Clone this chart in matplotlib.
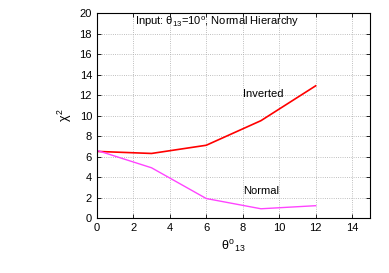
import matplotlib
matplotlib.use("Agg")
import matplotlib.pyplot as plt

plt.rcParams['font.family'] = ['Liberation Sans', 'DejaVu Sans']
plt.rcParams['mathtext.fontset'] = 'custom'
plt.rcParams['mathtext.rm'] = 'Liberation Sans'
plt.rcParams['mathtext.it'] = 'Liberation Sans'

theta = [0, 3, 6, 9, 12]
inverted = [6.5, 6.3, 7.1, 9.5, 12.9]
normal = [6.6, 4.9, 1.9, 0.9, 1.2]
xticks = [0, 2, 4, 6, 8, 10, 12, 14]
yticks = [0, 2, 4, 6, 8, 10, 12, 14, 16, 18, 20]

fig = plt.figure(figsize=(3.89, 2.73), dpi=100)
ax = fig.add_axes([0.249, 0.2015, 0.703, 0.7505])

ax.plot(theta, inverted, color='#ff0000', lw=1.2)
ax.plot(theta, normal, color='#ff44ff', lw=1.0)

ax.set_xlim(0, 15)
ax.set_ylim(0, 20)
ax.set_xticks(xticks)
ax.set_yticks(yticks)
ax.tick_params(direction='in', top=True, right=True, labelsize=8, length=3, width=0.6)
ax.grid(True, color='#aaaaaa', linestyle=':', linewidth=0.6)
for s in ax.spines.values():
    s.set_linewidth(0.8)

ax.set_xlabel(r'$\theta^{\rm o}{}_{13}$', fontsize=9)
ax.set_ylabel(r'$\chi^2$', fontsize=9)

ax.text(2.1, 18.8, r'Input: $\theta_{13}$=10$^{\rm o}$, Normal Hierarchy', fontsize=8)
ax.text(8.0, 11.8, 'Inverted', fontsize=8)
ax.text(8.0, 2.3, 'Normal', fontsize=8)

fig.savefig('out.png', dpi=100)
